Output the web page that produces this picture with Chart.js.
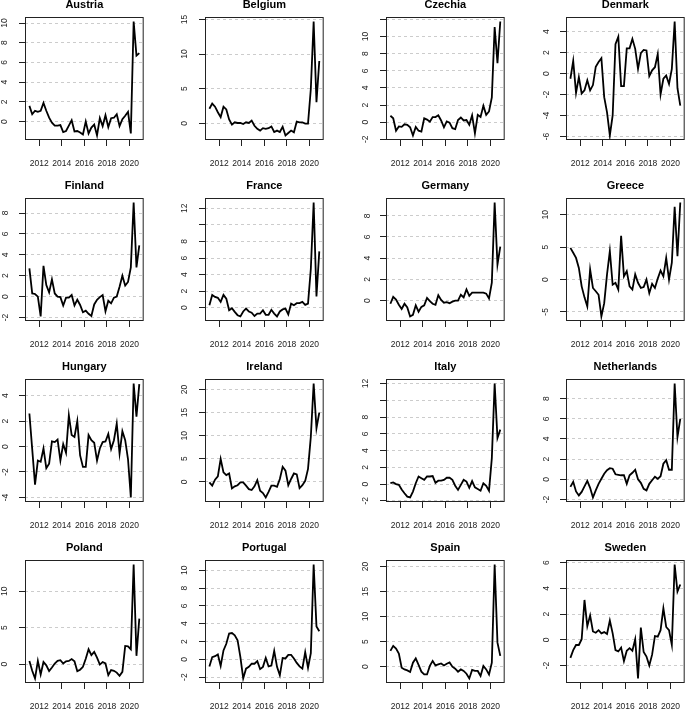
<!DOCTYPE html>
<html>
<head>
<meta charset="utf-8">
<script src="https://cdn.jsdelivr.net/npm/chart.js@4/dist/chart.umd.min.js"></script>
<style>
  html, body { margin: 0; padding: 0; background: #fff; }
  body { width: 690px; height: 710px; position: relative; overflow: hidden; }
  canvas { position: absolute; }
</style>
</head>
<body>
<script>
// quarterly time points (mid-quarter)
const quarters = [2011.125, 2011.375, 2011.625, 2011.875, 2012.125, 2012.375, 2012.625, 2012.875,
  2013.125, 2013.375, 2013.625, 2013.875, 2014.125, 2014.375, 2014.625, 2014.875,
  2015.125, 2015.375, 2015.625, 2015.875, 2016.125, 2016.375, 2016.625, 2016.875,
  2017.125, 2017.375, 2017.625, 2017.875, 2018.125, 2018.375, 2018.625, 2018.875,
  2019.125, 2019.375, 2019.625, 2019.875, 2020.125, 2020.375, 2020.625, 2020.875];
const xTicks = [2012, 2014, 2016, 2018, 2020];

const countries = ["Austria", "Belgium", "Czechia", "Denmark", "Finland", "France", "Germany", "Greece",
  "Hungary", "Ireland", "Italy", "Netherlands", "Poland", "Portugal", "Spain", "Sweden"];

const austria = [1.6, 0.75, 1.1, 1.0, 1.1, 1.9, 1.1, 0.4, -0.1, -0.4, -0.4, -0.35, -1.05, -0.95, -0.4, 0.15, -1.0, -0.95, -1.1, -1.3,
  0.0, -1.2, -0.6, -0.3, -1.4, 0.35, -0.45, 0.65, -0.55, 0.35, 0.4, 0.75, -0.45, 0.25, 0.6, 1.0, -1.2, 10.15, 6.7, 6.95];
const belgium = [2.1, 2.85, 2.4, 1.6, 0.9, 2.4, 2.0, 0.55, -0.2, 0.15, 0.05, 0.05, -0.1, 0.15, 0.05, 0.4, -0.35, -0.8, -1.05, -0.7,
  -0.8, -0.7, -0.45, -1.25, -1.05, -1.25, -0.5, -1.75, -1.4, -1.05, -1.3, 0.25, 0.15, 0.15, -0.05, -0.05, 5.0, 14.7, 3.05, 9.0];
const czechia = [0.75, 0.45, -1.0, -0.5, -0.55, -0.25, -0.3, -0.6, -1.55, -0.55, -1.0, -1.1, 0.45, 0.3, 0.05, 0.6, 0.6, 0.8, 0.2, -0.6,
  0.1, -0.05, -0.7, -0.8, 0.25, 0.55, 0.2, 0.25, -0.3, 0.8, -1.3, 0.85, 0.6, 1.9, 0.85, 1.25, 2.9, 11.1, 6.9, 11.75];
const denmark = [-0.5, 1.2, -1.85, -0.35, -1.9, -1.6, -0.65, -1.6, -1.1, 0.65, 1.1, 1.45, -2.25, -3.7, -5.9, -4.0, 2.8, 3.5, -1.2, -1.2,
  2.4, 2.4, 3.3, 2.35, 0.45, 1.95, 2.25, 2.2, -0.25, 0.3, 0.6, 1.85, -2.0, -0.5, -0.2, -1.0, 0.45, 4.95, -1.4, -3.05];
const finland = [2.7, 0.3, 0.25, 0.0, -1.9, 2.95, 1.1, 0.4, 1.65, 0.3, 0.0, -0.05, -0.85, -0.1, -0.1, 0.15, -0.85, -0.3, -0.8, -1.5,
  -1.35, -1.65, -1.85, -0.75, -0.3, -0.05, 0.15, -1.4, -0.4, -0.65, -0.1, 0.0, 0.95, 2.0, 1.05, 1.4, 2.8, 9.0, 2.8, 4.9];
const france = [0.3, 1.55, 1.3, 1.2, 0.7, 1.55, 1.1, -0.3, -0.05, -0.5, -0.9, -1.05, -0.45, -0.1, -0.45, -0.6, -1.0, -0.7, -0.7, -0.3,
  -0.85, -0.85, -0.25, -0.7, -1.05, -0.45, -0.2, -0.1, -0.8, 0.5, 0.3, 0.55, 0.55, 0.7, 0.35, 0.5, 4.7, 12.7, 1.35, 6.8];
const germany = [-0.3, 0.35, 0.1, -0.4, -0.8, -0.3, -0.65, -1.5, -1.35, -0.45, -1.05, -0.6, -0.45, 0.25, -0.05, -0.3, -0.4, 0.5, 0.05, -0.2,
  -0.15, -0.25, -0.1, 0.0, 0.0, 0.55, 0.3, 1.05, 0.45, 0.75, 0.75, 0.75, 0.75, 0.75, 0.65, 0.2, 1.7, 9.25, 3.4, 5.1];
const greece = [4.9, 4.15, 3.35, 1.8, -1.05, -2.75, -4.15, 1.55, -1.3, -1.8, -2.35, -5.7, -3.65, 0.8, 4.4, -0.8, -0.5, -1.55, 6.75, 0.5,
  1.3, -1.05, -1.55, 0.8, -0.5, -1.3, -1.15, 0.0, -2.1, -0.65, -1.3, 0.15, 1.4, 0.5, 3.35, 0.0, 2.6, 11.25, 3.6, 11.9];
const hungary = [2.6, -0.2, -3.0, -1.1, -1.2, -0.15, -1.7, -1.35, 0.4, 0.35, 0.55, -1.1, 0.2, -0.5, 2.45, 0.9, 0.75, 2.0, -0.7, -1.6,
  -1.6, 0.9, 0.5, 0.3, -1.1, -0.15, 0.35, 0.4, 1.0, -0.2, 0.5, 1.8, -0.55, 1.2, 0.5, -1.0, -4.0, 4.95, 2.35, 4.9];
const ireland = [-0.15, -0.85, 0.45, 1.15, 4.95, 2.05, 1.45, 1.8, -1.45, -1.0, -0.75, -0.15, -0.15, -0.85, -1.6, -1.8, -1.0, 0.35, -1.95, -2.45,
  -3.4, -2.2, -0.85, -0.85, -1.1, 0.6, 3.25, 2.4, -0.75, 0.6, 1.8, 1.6, -1.4, -0.75, 0.2, 2.8, 9.8, 21.3, 11.6, 15.0];
const italy = [0.1, 0.2, 0.0, -0.1, -0.65, -1.1, -1.5, -1.6, -0.9, 0.1, 0.9, 0.7, 0.5, 0.9, 0.9, 0.95, 0.15, 0.4, 0.4, 0.5,
  0.75, 0.75, 0.5, -0.2, -0.7, -0.1, 0.5, 0.3, -0.45, 0.35, -0.4, -0.6, -0.8, 0.1, -0.2, -0.8, 3.1, 12.0, 5.5, 6.5];
const netherlands = [-0.75, -0.25, -1.2, -1.6, -1.25, -0.7, -0.15, -0.85, -1.8, -1.1, -0.45, 0.05, 0.55, 0.9, 1.1, 1.05, 0.5, 0.45, 0.4, 0.4,
  -0.45, 0.4, 0.65, 0.95, 0.0, -0.35, -0.95, -1.1, -0.45, -0.1, 0.25, 0.05, 0.3, 1.55, 1.9, 0.95, 0.95, 9.5, 4.2, 6.0];
const poland = [0.45, -0.9, -1.95, 0.45, -1.4, 0.3, -0.15, -0.95, -0.45, 0.1, 0.45, 0.55, 0.1, 0.4, 0.45, 0.7, 0.4, -0.95, -0.75, -0.35,
  0.75, 2.05, 1.25, 1.7, 0.9, -0.05, 0.3, 0.1, -1.5, -0.8, -0.9, -1.15, -1.6, -1.05, 2.5, 2.45, 2.05, 13.65, 1.15, 6.25];
const portugal = [-0.8, 0.25, 0.35, 0.55, -0.75, 1.0, 1.75, 2.9, 2.95, 2.7, 2.15, 0.25, -2.15, -1.05, -0.85, -0.5, -0.5, -0.2, -1.1, -0.85,
  0.15, -0.8, -0.7, 0.95, -0.85, -1.8, 0.15, 0.1, 0.5, 0.5, 0.1, -0.4, -0.8, -1.05, 0.8, -0.95, 0.7, 10.65, 3.7, 3.15];
const spain = [3.15, 4.15, 3.6, 2.6, -0.2, -0.55, -0.75, -1.05, 0.8, 1.65, 0.35, -1.0, -1.55, -1.55, 0.15, 1.15, 0.25, 0.45, 0.65, 0.25,
  0.6, 0.85, 0.0, -0.4, -1.0, -0.55, -0.85, -1.4, -2.35, -0.65, -0.85, -0.85, -1.85, 0.15, -0.55, -1.55, 0.8, 20.4, 4.8, 2.15];
const sweden = [-1.4, -0.8, -0.4, -0.4, 0.05, 3.1, 1.05, 1.9, 0.65, 0.55, 0.75, 0.5, 0.6, 0.45, 1.5, 0.5, -0.8, -0.9, -0.6, -1.65,
  -0.85, -0.65, -0.85, 0.05, -3.0, 0.95, -0.95, -1.3, -2.0, -1.15, 0.3, 0.25, 0.75, 2.45, 1.0, 0.75, -0.4, 5.85, 3.75, 4.3];

const series = [austria, belgium, czechia, denmark, finland, france, germany, greece,
  hungary, ireland, italy, netherlands, poland, portugal, spain, sweden];

// y tick values per panel (some labels are left out, as in the original)
const yTicks = [
  [0, 2, 4, 6, 8, 10], [0, 5, 10, 15], [-2, 0, 2, 4, 6, 8, 10, 12], [-6, -4, -2, 0, 2, 4],
  [-2, 0, 2, 4, 6, 8], [0, 2, 4, 6, 8, 10, 12], [0, 2, 4, 6, 8], [-5, 0, 5, 10],
  [-4, -2, 0, 2, 4], [0, 5, 10, 15, 20], [-2, 0, 2, 4, 6, 8, 10, 12], [-2, 0, 2, 4, 6, 8],
  [0, 5, 10], [-2, 0, 2, 4, 6, 8, 10], [0, 5, 10, 15, 20], [-2, 0, 2, 4, 6]
];
const hiddenYLabels = { Czechia: [12], France: [10], Italy: [10] };

// panel layout
const boxLefts = [25, 205, 386, 566];
const boxTops = [17, 198, 379, 560];
const boxSize = 123;
const padL = 25, padT = 20, padR = 5, padB = 32;

const FONT = "'Liberation Sans', Arial, Helvetica, sans-serif";

// R-like axis range: data range extended by 4% each side
function rRange(vals) {
  const lo = Math.min(...vals), hi = Math.max(...vals);
  const d = (hi - lo) * 0.04;
  return [lo - d, hi + d];
}

const boxPlugin = {
  id: 'box',
  afterDatasetsDraw(chart) {
    const a = chart.chartArea, ctx = chart.ctx;
    ctx.save();
    ctx.strokeStyle = '#222';
    ctx.lineWidth = 1;
    ctx.strokeRect(a.left + 0.5, a.top + 0.5, a.right - a.left - 1, a.bottom - a.top - 1);
    ctx.restore();
  }
};

const [xMin, xMax] = rRange(quarters);

countries.forEach((name, k) => {
  const row = Math.floor(k / 4), col = k % 4;
  const cv = document.createElement('canvas');
  cv.width = padL + boxSize + padR;
  cv.height = padT + boxSize + padB;
  cv.style.left = (boxLefts[col] - padL) + 'px';
  cv.style.top = (boxTops[row] - padT) + 'px';
  document.body.appendChild(cv);

  const vals = series[k];
  const [yMin, yMax] = rRange(vals);
  const hide = hiddenYLabels[name] || [];

  new Chart(cv, {
    type: 'line',
    data: {
      datasets: [{
        data: quarters.map((t, i) => ({ x: t, y: vals[i] })),
        borderColor: '#000',
        borderWidth: 1.8,
        pointRadius: 0,
        tension: 0,
        fill: false
      }]
    },
    options: {
      responsive: false,
      animation: false,
      events: [],
      layout: { padding: { left: 0, right: padR, top: 0, bottom: 0 } },
      plugins: {
        legend: { display: false },
        tooltip: { enabled: false },
        title: {
          display: true,
          text: name,
          fullSize: false,
          color: '#000',
          font: { family: FONT, size: 11, weight: 'bold' },
          padding: { top: 1.5, bottom: padT - 13.2 - 1.5 }
        }
      },
      scales: {
        x: {
          type: 'linear',
          min: xMin,
          max: xMax,
          afterBuildTicks: s => { s.ticks = xTicks.map(v => ({ value: v })); },
          afterFit: s => { s.height = padB; },
          grid: { drawOnChartArea: false, drawTicks: true, tickLength: 6, tickColor: '#222', tickWidth: 1 },
          border: { display: false },
          ticks: {
            autoSkip: false,
            maxRotation: 0,
            padding: 13,
            color: '#222',
            font: { family: FONT, size: 8.5 },
            callback: v => String(v)
          }
        },
        y: {
          type: 'linear',
          min: yMin,
          max: yMax,
          afterBuildTicks: s => { s.ticks = yTicks[k].map(v => ({ value: v })); },
          afterFit: s => { s.width = padL; },
          grid: { drawOnChartArea: true, drawTicks: true, tickLength: 6, color: '#cccccc', lineWidth: 1, tickColor: '#222', tickWidth: 1 },
          border: { display: false, dash: [3, 3] },
          ticks: {
            autoSkip: false,
            minRotation: 90,
            maxRotation: 90,
            crossAlign: 'center',
            padding: 10,
            color: '#222',
            font: { family: FONT, size: 8.5 },
            callback: v => hide.includes(v) ? '' : String(v)
          }
        }
      }
    },
    plugins: [boxPlugin]
  });
});
</script>
</body>
</html>
